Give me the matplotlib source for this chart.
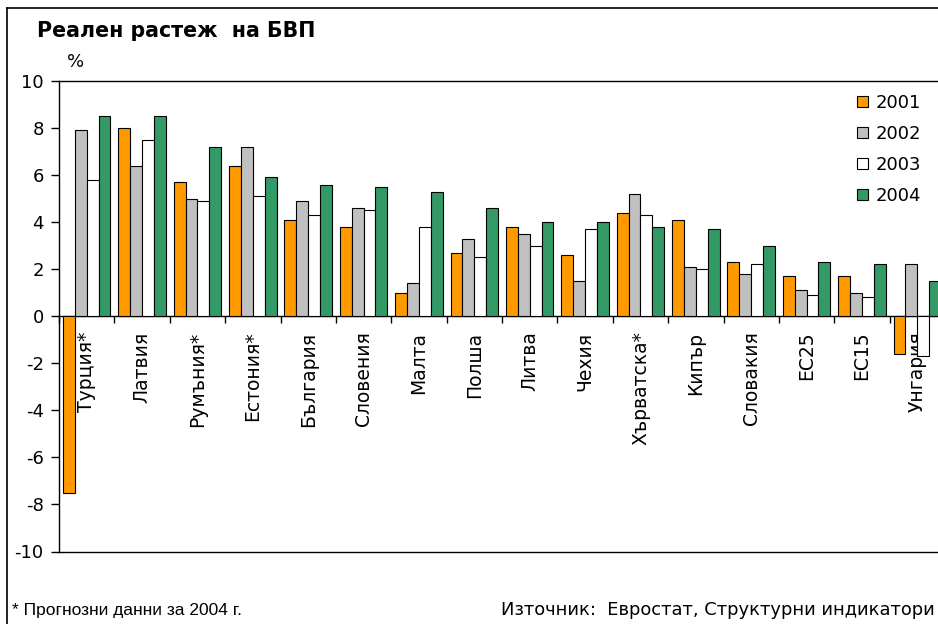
import matplotlib
matplotlib.use("Agg")
import matplotlib.pyplot as plt
import numpy as np
from matplotlib.patches import Patch
from matplotlib.lines import Line2D

plt.rcParams['font.family'] = ['DejaVu Sans']

categories = ["Турция*", "Латвия", "Румъния*", "Естония*", "България", "Словения",
              "Малта", "Полша", "Литва", "Чехия", "Хърватска*", "Кипър",
              "Словакия", "ЕС25", "ЕС15", "Унгария"]
years = ["2001", "2002", "2003", "2004"]
g2001 = [-7.5, 8.0, 5.7, 6.4, 4.1, 3.8, 1.0, 2.7, 3.8, 2.6, 4.4, 4.1, 2.3, 1.7, 1.7, -1.6]
g2002 = [7.9, 6.4, 5.0, 7.2, 4.9, 4.6, 1.4, 3.3, 3.5, 1.5, 5.2, 2.1, 1.8, 1.1, 1.0, 2.2]
g2003 = [5.8, 7.5, 4.9, 5.1, 4.3, 4.5, 3.8, 2.5, 3.0, 3.7, 4.3, 2.0, 2.2, 0.9, 0.8, -1.7]
g2004 = [8.5, 8.5, 7.2, 5.9, 5.6, 5.5, 5.3, 4.6, 4.0, 4.0, 3.8, 3.7, 3.0, 2.3, 2.2, 1.5]
yticks = list(range(-10, 11, 2))

series = [g2001, g2002, g2003, g2004]
colors = ["#FF9900", "#C0C0C0", "#FFFFFF", "#339966"]

W, H = 938, 624
fig = plt.figure(figsize=(W / 100, H / 100), dpi=100)

# plot area runs past the right edge of the figure
x0, x1 = 59, 945
ytop, ybot = 81, 551.5
ax = fig.add_axes([x0 / W, (H - ybot) / H, (x1 - x0) / W, (ybot - ytop) / H])

n = len(categories)
x = np.arange(n)
w = 0.215
for k, (vals, c) in enumerate(zip(series, colors)):
    ax.bar(x + (k - 1.5) * w, vals, width=w, color=c, edgecolor="black",
           linewidth=0.8, label=years[k], zorder=3)

ax.set_xlim(-0.5, n - 0.5)
ax.set_ylim(-10, 10)

# category axis sits on the zero line
ax.spines['bottom'].set_position(('data', 0))
ax.spines['right'].set_visible(False)
for s in ['left', 'top', 'bottom']:
    ax.spines[s].set_linewidth(1.0)
    ax.spines[s].set_color("black")
ax.axhline(-10, color="black", lw=1.0, clip_on=False, zorder=4)

ax.set_xticks(np.arange(n + 1) - 0.5)
ax.set_xticklabels([])
ax.set_xticks(x, minor=True)
ax.set_xticklabels(categories, minor=True, rotation=90, va='top', ha='center', fontsize=13.5)
ax.tick_params(axis='x', which='major', direction='out', length=5, width=1)
ax.tick_params(axis='x', which='minor', length=0, pad=11)

ax.set_yticks(yticks)
ax.set_yticklabels([str(v) for v in yticks], fontsize=13)
ax.tick_params(axis='y', direction='out', length=6, width=1, pad=5)

handles = [Patch(facecolor=c, edgecolor="black", linewidth=0.8) for c in colors]
fig.legend(handles, years, loc='upper left', bbox_to_anchor=(857 / W, 1 - 94 / H),
           frameon=False, fontsize=13, handlelength=0.6, handleheight=0.6,
           handletextpad=0.45, labelspacing=0.72, borderpad=0, borderaxespad=0)

fig.text(37 / W, 1 - 31 / H, "Реален растеж  на БВП", fontsize=14.8, fontweight='bold',
         va='center', ha='left')
fig.text(67 / W, 1 - 62 / H, "%", fontsize=13, va='center', ha='left')
fig.text(12 / W, 1 - 610 / H, "* Прогнозни данни за 2004 г.", fontsize=12.5,
         family=['Liberation Sans'], va='center', ha='left')
fig.text(935 / W, 1 - 610 / H, "Източник:  Евростат, Структурни индикатори", fontsize=12.9,
         va='center', ha='right')

# outer frame lines
fig.add_artist(Line2D([7 / W, 7 / W], [0, 1 - 8 / H], color="black", lw=1.2))
fig.add_artist(Line2D([7 / W, 1], [1 - 8 / H, 1 - 8 / H], color="black", lw=1.2))

fig.savefig("out.png", dpi=100)
